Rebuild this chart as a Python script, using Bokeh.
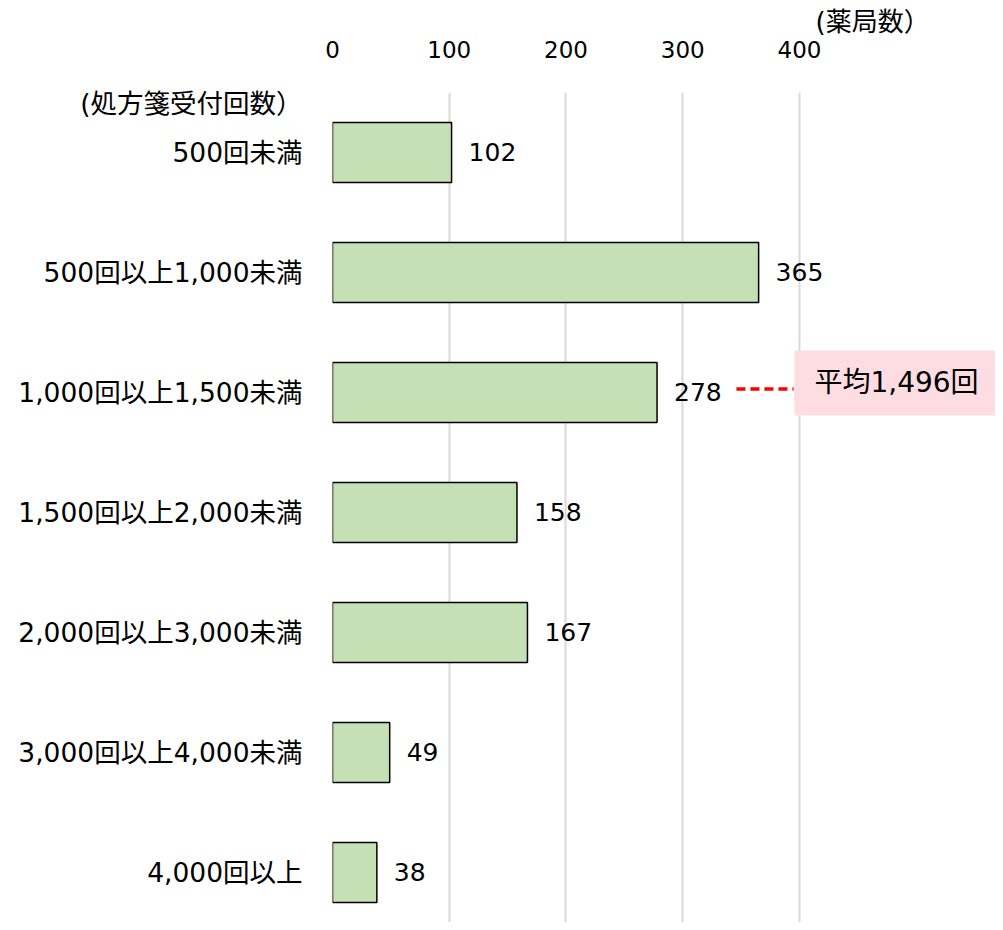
from bokeh.plotting import figure
from bokeh.models import Range1d, FixedTicker, Label, ColumnDataSource, Title
from bokeh.core.properties import value
from bokeh.embed import file_html
from bokeh.resources import INLINE

categories = ["500回未満", "500回以上1,000未満", "1,000回以上1,500未満", "1,500回以上2,000未満",
              "2,000回以上3,000未満", "3,000回以上4,000未満", "4,000回以上"]
counts = [102, 365, 278, 158, 167, 49, 38]
x_ticks = [0, 100, 200, 300, 400]
x_title = "(薬局数）"
y_title = "(処方箋受付回数）"
avg_text = "平均1,496回"

FONT = "DejaVu Sans, Noto Sans CJK JP"
idx = list(range(len(categories)))

src = ColumnDataSource(dict(y=idx, v=counts, lab=[str(c) for c in counts]))

p = figure(width=995, height=922, output_backend="svg", toolbar_location=None,
           x_range=Range1d(0, 567.9), y_range=Range1d(6.4167, -0.5),
           x_axis_location="above", min_border_left=332, min_border_right=0,
           min_border_top=92, min_border_bottom=0)
p.outline_line_color = None
p.background_fill_color = "white"

p.hbar(y="y", left=0, right="v", height=0.5, source=src,
       fill_color="#C5E0B4", line_color="black", line_width=1.5)
p.text(x="v", y="y", text="lab", source=src, x_offset=17,
       text_align="left", text_baseline="middle",
       text_font=value(FONT), text_font_size="25px", text_color="black")

# x axis (top)
xa = p.xaxis[0]
xa.ticker = FixedTicker(ticks=x_ticks)
xa.axis_line_color = None
xa.major_tick_line_color = None
xa.minor_tick_line_color = None
xa.major_label_text_font = FONT
xa.major_label_text_font_size = "23px"
xa.major_label_text_color = "black"
xa.major_label_standoff = 29

# y axis (left); the first tick carries the axis title
title_pos = -0.41
ya = p.yaxis[0]
ya.ticker = FixedTicker(ticks=[title_pos] + idx)
labels = {i: c for i, c in zip(idx, categories)}
labels[title_pos] = y_title
ya.major_label_overrides = labels
ya.axis_line_color = None
ya.major_tick_line_color = None
ya.minor_tick_line_color = None
ya.major_label_text_font = FONT
ya.major_label_text_font_size = "26.5px"
ya.major_label_text_color = "black"
ya.major_label_standoff = 24

p.xgrid.ticker = FixedTicker(ticks=x_ticks)
p.xgrid.grid_line_color = "#D9D9D9"
p.xgrid.grid_line_width = 2
p.ygrid.grid_line_color = None

# x axis title, top right
p.add_layout(Title(text=x_title, align="left", offset=483, text_font=FONT,
                   text_font_size="26px", text_font_style="normal", text_color="black",
                   standoff=2), "above")

# average annotation
p.segment(x0=[346], y0=[1.97], x1=[395], y1=[1.97], line_color="red",
          line_width=3.5, line_dash="9 5")
p.add_layout(Label(x=395.7, y=1.92, text=avg_text, text_align="left", text_baseline="middle",
                   text_font=FONT, text_font_size="28px", text_color="black",
                   background_fill_color="#FDDDE1", padding=(20, 40, 16, 16)))

open("out.html", "w").write(file_html(p, INLINE))
